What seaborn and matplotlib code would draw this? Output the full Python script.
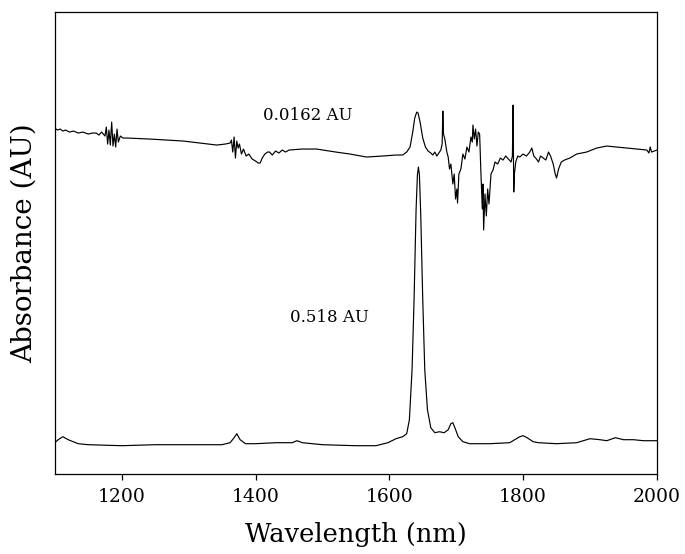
import numpy as np
import pandas as pd
import matplotlib
matplotlib.use("Agg")
import matplotlib.pyplot as plt
import seaborn as sns

# lower trace (0.518 AU full scale), heights in plot units
low_wl = [1100, 1105, 1112, 1120, 1135, 1150, 1200, 1250, 1300, 1350, 1362, 1368,
          1372, 1377, 1385, 1400, 1430, 1455, 1462, 1470, 1500, 1550, 1580, 1598,
          1610, 1620, 1626, 1630, 1634, 1637, 1640, 1642, 1643.5, 1645, 1647, 1650,
          1653, 1657, 1662, 1668, 1675, 1682, 1688, 1692, 1695, 1698, 1703, 1710,
          1720, 1750, 1780, 1795, 1800, 1806, 1815, 1823, 1850, 1880, 1900, 1915,
          1925, 1938, 1950, 1965, 1980, 2000]
low_abs = [31, 34, 37, 34, 30, 29, 28, 29, 29, 29, 31, 36,
           40, 34, 30, 30, 31, 31, 33, 31, 29, 28, 28, 31,
           35, 37, 40, 54, 104, 174, 264, 299, 307, 299, 259, 174,
           104, 64, 46, 41, 42, 41, 44, 50, 51, 46, 37, 32,
           30, 30, 31, 37, 38, 36, 32, 31, 30, 31, 35, 34,
           33, 36, 34, 34, 33, 33]

# upper trace (0.0162 AU full scale), offset above the lower one
up_wl = [1100, 1104, 1108, 1112, 1116, 1122, 1128, 1135, 1142, 1150, 1156, 1162,
         1166, 1170, 1175, 1177, 1179, 1181, 1183,
         1185, 1187, 1189, 1191, 1193, 1195, 1198, 1202, 1208, 1242, 1292, 1342,
         1355, 1362, 1364, 1366, 1368, 1370, 1372, 1374, 1376, 1379, 1382, 1386,
         1390, 1395, 1400, 1404, 1407, 1410, 1414, 1418, 1421, 1425, 1430, 1435,
         1440, 1445, 1450, 1470, 1491, 1520, 1541, 1566, 1590, 1610, 1620, 1626,
         1631, 1635, 1638, 1641, 1643, 1646, 1650, 1654, 1658, 1662, 1665, 1668,
         1671, 1674, 1677, 1679, 1680, 1681, 1683, 1686, 1688, 1690, 1692, 1695,
         1697, 1699, 1701, 1702, 1704, 1707, 1710, 1713, 1716, 1719, 1722, 1724,
         1725, 1727, 1729, 1731, 1733, 1735, 1737, 1739, 1740, 1741, 1743, 1745,
         1747, 1749, 1752, 1755, 1758, 1762, 1766, 1770, 1774, 1778, 1782, 1784,
         1785, 1786, 1787, 1789, 1792, 1795, 1800, 1805, 1810, 1813, 1816, 1820,
         1823, 1826, 1830, 1834, 1838, 1841, 1845, 1848, 1850, 1853, 1857, 1862,
         1870, 1880, 1895, 1910, 1925, 1940, 1955, 1970, 1985, 1988, 1990, 1992,
         2000]
up_abs = [346, 344, 345, 343, 344, 342, 343, 341, 342, 340, 341, 341,
          339, 342, 338, 347, 330, 344, 329,
          352, 328, 340, 327, 345, 332, 338, 336, 336, 335, 333, 329,
          330, 331, 334, 322, 337, 316, 333, 326, 330, 320, 325, 318,
          320, 315, 313, 311, 311, 316, 320, 322, 322, 319, 323, 321,
          324, 322, 324, 325, 325, 322, 320, 317, 318, 319, 319, 322,
          327, 342, 356, 362, 361, 352, 336, 327, 323, 321, 319, 322,
          318, 321, 324, 330, 363, 340, 335, 322, 317, 305, 310, 290,
          300, 275, 285, 271, 300, 305, 320, 315, 327, 322, 337, 332,
          349, 335, 345, 328, 342, 340, 300, 265, 290, 244, 280, 258,
          285, 270, 300, 304, 312, 310, 316, 314, 318, 315, 312, 318,
          369, 282, 300, 312, 318, 317, 320, 318, 322, 326, 318, 315,
          312, 318, 316, 314, 322, 318, 310, 300, 296, 305, 312, 314,
          316, 320, 322, 326, 328, 327, 326, 325, 324, 321, 327, 322,
          324]

x_ticks = [1200, 1400, 1600, 1800, 2000]

df_low = pd.DataFrame({"wl": low_wl, "absorb": low_abs})
df_up = pd.DataFrame({"wl": up_wl, "absorb": up_abs})

sns.set_theme(style="ticks")
plt.rcParams['font.family'] = ['DejaVu Serif']
plt.rcParams['text.color'] = 'black'
plt.rcParams['axes.labelcolor'] = 'black'
plt.rcParams['xtick.color'] = 'black'

fig = plt.figure(figsize=(6.85, 5.54), dpi=100)
ax = fig.add_axes([0.080, 0.145, 0.879, 0.833])

sns.lineplot(data=df_low, x="wl", y="absorb", ax=ax, color="black", lw=0.85,
             sort=False, estimator=None)
sns.lineplot(data=df_up, x="wl", y="absorb", ax=ax, color="black", lw=0.85,
             sort=False, estimator=None)

ax.text(1478, 359, "0.0162 AU", fontsize=12, ha="center", va="center")
ax.text(1510, 156, "0.518 AU", fontsize=12, ha="center", va="center")

ax.set_xlim(1100, 2000)
ax.set_ylim(0, 462)
ax.set_xticks(x_ticks)
ax.set_yticks([])
ax.tick_params(axis="x", direction="out", length=4, width=0.9, labelsize=13.5, pad=6)
for s in ax.spines.values():
    s.set_linewidth(0.9)
    s.set_color("black")

ax.set_xlabel("Wavelength (nm)", fontsize=18.5, labelpad=12)
ax.set_ylabel("Absorbance (AU)", fontsize=20, labelpad=12)

fig.savefig("out.png", dpi=100)
